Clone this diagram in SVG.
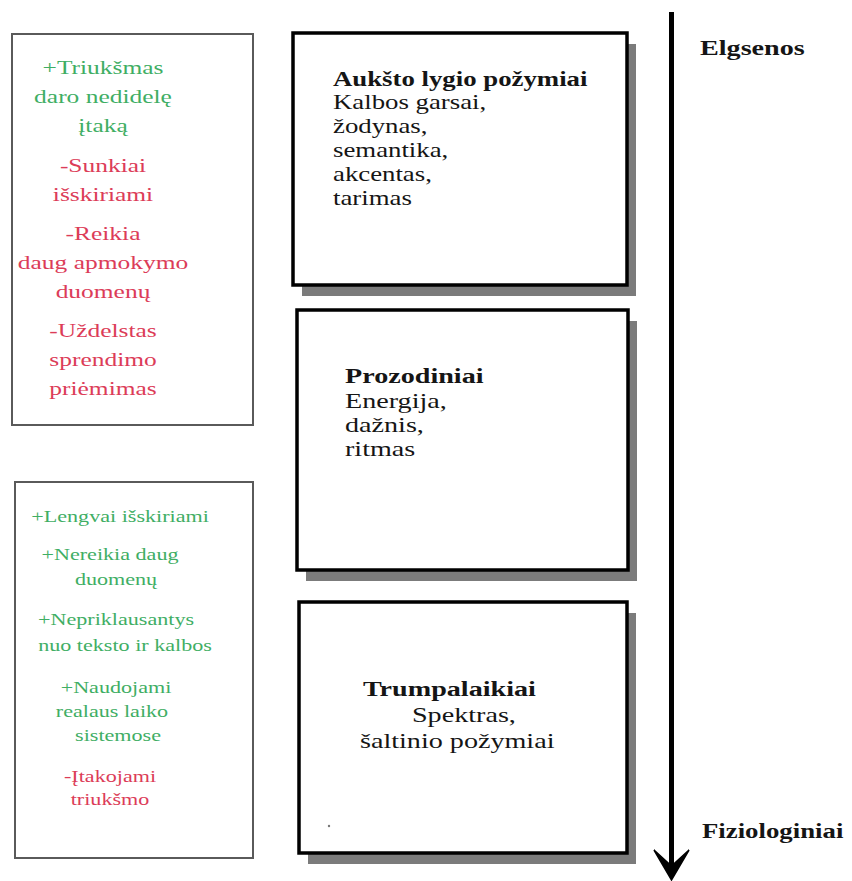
<svg xmlns="http://www.w3.org/2000/svg" width="852" height="881" viewBox="0 0 852 881">
<defs>
<style>
text{font-family:"Liberation Serif","Times New Roman",serif;fill:#151515}
.b{font-weight:bold}
.g{fill:#3fae64}
.r{fill:#dc3c58}
.c{text-anchor:middle}
.side{fill:#fff;stroke:#5a5a5a;stroke-width:2}
.box{fill:#fff;stroke:#000;stroke-width:3.5}
.shadow{fill:#7b7b7b}
.axis{stroke:#000;stroke-width:5;fill:none}
</style>
<marker id="head" markerUnits="userSpaceOnUse" markerWidth="40" markerHeight="40" refX="18" refY="20" orient="auto">
<path d="M0,20 L18,20" fill="none"/>
</marker>
</defs>
<rect width="852" height="881" fill="#fff"/>

<g id="pros-cons-high">
<rect class="side" x="12" y="34" width="241" height="391"/>
<g transform="translate(103 0) scale(1.34 1)" font-size="19">
<text class="c g" x="0" y="74">+Triukšmas</text>
<text class="c g" x="0" y="103">daro nedidelę</text>
<text class="c g" x="0" y="132">įtaką</text>
<text class="c r" x="0" y="172">-Sunkiai</text>
<text class="c r" x="0" y="201">išskiriami</text>
<text class="c r" x="0" y="240">-Reikia</text>
<text class="c r" x="0" y="269">daug apmokymo</text>
<text class="c r" x="0" y="298">duomenų</text>
<text class="c r" x="0" y="337">-Uždelstas</text>
<text class="c r" x="0" y="366">sprendimo</text>
<text class="c r" x="0" y="395">priėmimas</text>
</g>
</g>

<g id="pros-cons-low">
<rect class="side" x="15" y="482" width="238" height="376"/>
<g transform="scale(1.34 1)" font-size="16.5">
<text class="c g" x="89.6" y="522">+Lengvai išskiriami</text>
<text class="c g" x="82.1" y="560">+Nereikia daug</text>
<text class="c g" x="86.6" y="585">duomenų</text>
<text class="c g" x="86.6" y="625">+Nepriklausantys</text>
<text class="c g" x="93.3" y="651">nuo teksto ir kalbos</text>
<text class="c g" x="86.6" y="693">+Naudojami</text>
<text class="c g" x="83.6" y="717">realaus laiko</text>
<text class="c g" x="88.1" y="741">sistemose</text>
<text class="c r" x="82.1" y="782">-Įtakojami</text>
<text class="c r" x="82.1" y="805">triukšmo</text>
</g>
</g>

<g id="high-level">
<rect class="shadow" x="302" y="44" width="334" height="252"/>
<rect class="box" x="293" y="33" width="334" height="252"/>
<g transform="translate(333 0) scale(1.34 1)" font-size="20">
<text class="b" x="0" y="86">Aukšto lygio požymiai</text>
<text x="0" y="109">Kalbos garsai,</text>
<text x="0" y="133">žodynas,</text>
<text x="0" y="157">semantika,</text>
<text x="0" y="181">akcentas,</text>
<text x="0" y="205">tarimas</text>
</g>
</g>

<g id="prosodic">
<rect class="shadow" x="306" y="321" width="331" height="260"/>
<rect class="box" x="297" y="310" width="331" height="260"/>
<g transform="translate(345 0) scale(1.34 1)" font-size="21">
<text class="b" x="0" y="383">Prozodiniai</text>
<text x="0" y="408">Energija,</text>
<text x="0" y="432">dažnis,</text>
<text x="0" y="456">ritmas</text>
</g>
</g>

<g id="short-term">
<rect class="shadow" x="308" y="613" width="328" height="251"/>
<rect class="box" x="299" y="602" width="328" height="251"/>
<g transform="translate(360 0) scale(1.34 1)" font-size="21">
<text class="b" x="2.2" y="696">Trumpalaikiai</text>
<text x="38.8" y="722">Spektras,</text>
<text x="0" y="748">šaltinio požymiai</text>
</g>
<circle cx="329" cy="826" r="1.2" fill="#777"/>
</g>

<g id="connectors">
<line class="axis" x1="671.5" y1="12" x2="671.5" y2="866"/>
<path d="M654,850 L671.5,866 L689,850 L671.5,880 Z" fill="#000" stroke="#000" stroke-width="1.5" stroke-linejoin="miter"/>
</g>

<g id="axis-labels">
<g transform="translate(700 0) scale(1.34 1)" font-size="21">
<text class="b" x="0" y="55">Elgsenos</text>
</g>
<g transform="translate(702 0) scale(1.34 1)" font-size="20">
<text class="b" x="0" y="838">Fiziologiniai</text>
</g>
</g>
</svg>
